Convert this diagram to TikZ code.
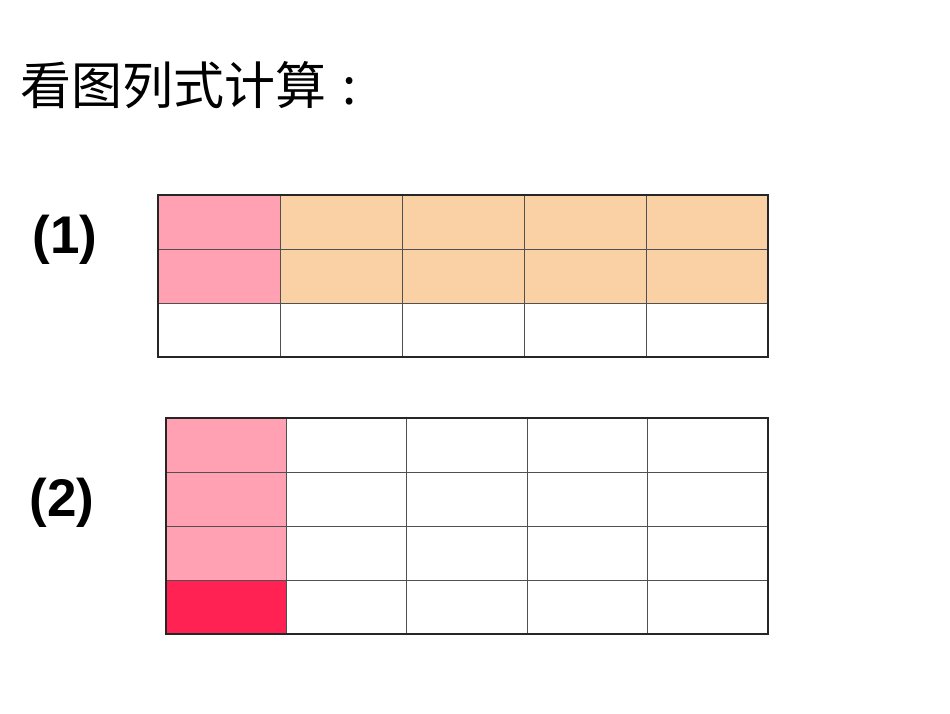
\documentclass[tikz,border=0pt]{standalone}
\usepackage{fontspec}
\setmainfont{Liberation Sans}
\newfontfamily\cjk{Noto Sans CJK SC}
\definecolor{pinkc}{RGB}{255,160,179}
\definecolor{peachc}{RGB}{250,208,165}
\definecolor{redc}{RGB}{255,34,82}
\definecolor{linec}{RGB}{80,80,80}
\begin{document}
\begin{tikzpicture}[x=1pt,y=-1pt,
  cell/.style={draw=linec, line width=1pt, inner sep=0pt, outer sep=0pt, minimum height=54pt},
  frame/.style={draw=black!85, line width=1.6pt},
  lbl/.style={font=\fontsize{53}{60}\selectfont\bfseries, inner sep=0pt}]
\useasboundingbox (0,0) rectangle (950,713);
\fill[white] (0,0) rectangle (950,713);
% title
\node[anchor=west, inner sep=0pt, font=\cjk\fontsize{51}{60}\selectfont] (title) at (20,85) {看图列式计算\hspace{16pt}:};
% labels
\node[lbl] (l1) at (65,240) {(1)};
\node[lbl] (l2) at (62,503) {(2)};
% grid 1
\foreach \r in {1,2,3}{
  \foreach \c in {1,...,5}{
    \pgfmathsetmacro{\xx}{158+122*(\c-0.5)}
    \pgfmathsetmacro{\yy}{195+54*(\r-0.5)}
    \ifnum\r<3
      \ifnum\c=1 \def\fc{pinkc}\else\def\fc{peachc}\fi
    \else \def\fc{white}\fi
    \node[cell, fill=\fc, minimum width=122pt] (a-\r-\c) at (\xx,\yy) {};
  }
}
\draw[frame] (a-1-1.north west) rectangle (a-3-5.south east);
% grid 2
\foreach \r in {1,2,3,4}{
  \foreach \c in {1,...,5}{
    \pgfmathsetmacro{\xx}{166+120.4*(\c-0.5)}
    \pgfmathsetmacro{\yy}{418+54*(\r-0.5)}
    \ifnum\c=1
      \ifnum\r=4 \def\fc{redc}\else\def\fc{pinkc}\fi
    \else \def\fc{white}\fi
    \node[cell, fill=\fc, minimum width=120.4pt] (b-\r-\c) at (\xx,\yy) {};
  }
}
\draw[frame] (b-1-1.north west) rectangle (b-4-5.south east);
\end{tikzpicture}
\end{document}
